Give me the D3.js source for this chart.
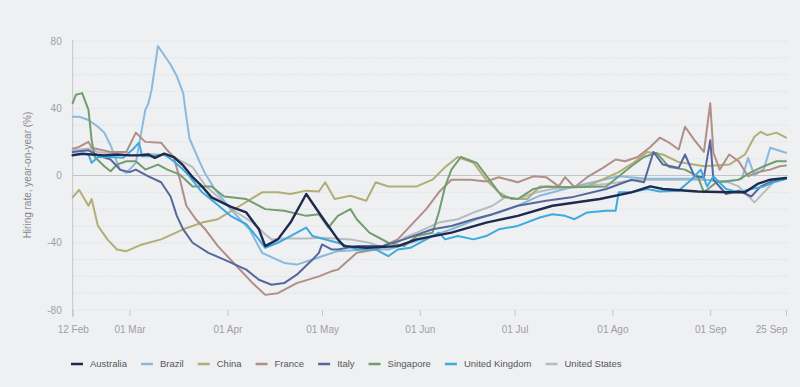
<!DOCTYPE html>
<html>
<head>
<meta charset="utf-8">
<script src="https://cdn.jsdelivr.net/npm/d3@7"></script>
<style>
  html, body { margin: 0; padding: 0; background: #eff0f2; }
  svg { display: block; font-family: "Liberation Sans", Arial, sans-serif; }
</style>
</head>
<body>
<script>
'use strict';

const countries = ["Australia", "Brazil", "China", "France", "Italy", "Singapore", "United Kingdom", "United States"];
const colors = ["#1f2a4d", "#8bb9dd", "#b3ad78", "#b08f87", "#56679b", "#739c71", "#3eaadd", "#b9bbc1"];

const tickDates = ["02-12", "03-01", "04-01", "05-01", "06-01", "07-01", "08-01", "09-01", "09-25"];
const tickLabels = ["12 Feb", "01 Mar", "01 Apr", "01 May", "01 Jun", "01 Jul", "01 Ago", "01 Sep", "25 Sep"];
const yTicks = [-80, -40, 0, 40, 80];

const australia = [
  ["02-12", 12], ["02-15", 13], ["02-18", 12.5], ["02-22", 12], ["02-26", 12.5], ["03-01", 12],
  ["03-04", 12], ["03-07", 12.5], ["03-09", 10.5], ["03-12", 13], ["03-15", 11], ["03-18", 6],
  ["03-21", -1], ["03-24", -6.5], ["03-27", -13], ["04-02", -18.5], ["04-07", -22], ["04-11", -32],
  ["04-13", -42], ["04-17", -38], ["04-21", -28], ["04-26", -11], ["04-30", -22], ["05-03", -30],
  ["05-06", -38], ["05-08", -42], ["05-15", -43], ["05-25", -42], ["05-31", -38], ["06-11", -34],
  ["06-22", -28], ["07-02", -24], ["07-13", -18], ["07-28", -14], ["08-07", -10], ["08-13", -6.5],
  ["08-17", -8], ["08-28", -9.5], ["09-07", -10], ["09-12", -10], ["09-16", -5], ["09-20", -2.5],
  ["09-25", -1.5]
];
const brazil = [
  ["02-12", 35], ["02-14", 35], ["02-17", 33], ["02-20", 29], ["02-22", 25.5], ["02-24", 18],
  ["02-26", 8], ["02-27", 3.5], ["02-29", 1.5], ["03-03", 7.5], ["03-06", 39], ["03-07", 43],
  ["03-08", 51], ["03-10", 77], ["03-14", 66], ["03-16", 59], ["03-18", 49], ["03-19", 35],
  ["03-20", 22], ["03-23", 9], ["03-25", 1], ["03-28", -8], ["04-02", -20], ["04-08", -32],
  ["04-12", -46], ["04-19", -52], ["04-23", -53], ["04-28", -50], ["05-01", -48], ["05-06", -45],
  ["05-15", -44], ["05-22", -44], ["05-29", -40], ["06-05", -36], ["06-11", -32], ["06-19", -26],
  ["06-26", -22], ["07-02", -18], ["07-09", -12], ["07-19", -7], ["08-03", -0.5], ["08-12", -2],
  ["08-19", -2], ["08-28", -2], ["09-06", -4], ["09-11", -2], ["09-13", 10.5], ["09-15", 0],
  ["09-18", 4], ["09-20", 16.5], ["09-25", 13.5]
];
const china = [
  ["02-12", -13], ["02-14", -8.5], ["02-17", -18], ["02-18", -14], ["02-20", -30], ["02-23", -38],
  ["02-26", -44], ["02-29", -45], ["03-05", -41], ["03-11", -38], ["03-18", -32], ["03-24", -28],
  ["03-29", -26], ["04-05", -18], ["04-12", -10], ["04-17", -10], ["04-21", -11], ["04-26", -9],
  ["04-30", -9.5], ["05-02", -4], ["05-05", -14], ["05-10", -12], ["05-15", -15], ["05-18", -4],
  ["05-22", -6.5], ["05-31", -6.5], ["06-05", -2.5], ["06-09", 5], ["06-13", 11], ["06-18", 7.5],
  ["06-22", -2.5], ["06-26", -10], ["06-30", -14], ["07-05", -14], ["07-09", -6.5], ["07-15", -7],
  ["07-24", -6.5], ["08-03", 2], ["08-08", 8], ["08-12", 14], ["08-17", 12.5], ["08-22", 8],
  ["08-30", 5.5], ["09-07", 6.5], ["09-12", 12.5], ["09-15", 23], ["09-17", 26], ["09-19", 24],
  ["09-22", 25.5], ["09-25", 22.5]
];
const france = [
  ["02-12", 16], ["02-14", 17], ["02-17", 20], ["02-18", 16.5], ["02-24", 14], ["02-29", 14],
  ["03-03", 25.5], ["03-06", 20], ["03-11", 19.5], ["03-13", 15], ["03-15", 11], ["03-17", -2.5],
  ["03-19", -18], ["03-22", -26], ["03-25", -32], ["03-29", -42], ["04-04", -54], ["04-09", -64],
  ["04-13", -71], ["04-17", -70], ["04-23", -64], ["04-30", -60], ["05-04", -57], ["05-06", -56],
  ["05-12", -46], ["05-18", -44], ["05-25", -38], ["05-29", -30], ["06-03", -20], ["06-07", -10],
  ["06-11", -2.5], ["06-17", -2.5], ["06-22", -3.5], ["06-26", -1], ["07-02", -4], ["07-07", -0.5],
  ["07-11", -1], ["07-15", -6.5], ["07-17", -1], ["07-20", -7], ["07-24", -1], ["07-29", 4.5],
  ["08-02", 9.5], ["08-05", 8.5], ["08-09", 11], ["08-13", 17], ["08-16", 22.5], ["08-19", 19.5],
  ["08-22", 15.5], ["08-24", 29], ["08-27", 21], ["08-30", 14], ["09-01", 43], ["09-02", 13.5],
  ["09-04", 3.5], ["09-07", 12.5], ["09-10", 8.5], ["09-13", -0.5], ["09-16", 2], ["09-20", 3.5],
  ["09-23", 5.5], ["09-25", 6]
];
const italy = [
  ["02-12", 14], ["02-17", 15], ["02-20", 12], ["02-24", 9.5], ["02-27", 3.5], ["03-01", 2],
  ["03-03", 3.5], ["03-07", -0.5], ["03-11", -4], ["03-14", -12.5], ["03-16", -24], ["03-18", -32],
  ["03-21", -40], ["03-26", -46], ["03-31", -50], ["04-07", -56], ["04-11", -62], ["04-15", -65],
  ["04-19", -64], ["04-23", -59], ["04-28", -50], ["04-30", -46], ["05-01", -41], ["05-04", -44],
  ["05-06", -44], ["05-12", -42], ["05-20", -42], ["05-27", -38], ["06-05", -32], ["06-11", -30],
  ["06-18", -26], ["06-24", -23], ["07-02", -18], ["07-11", -15], ["07-19", -13], ["07-30", -8],
  ["08-07", -2.5], ["08-11", -4], ["08-14", 14], ["08-17", 6.5], ["08-22", 4.5], ["08-24", 12.5],
  ["08-27", -0.5], ["08-30", -1], ["09-01", 21], ["09-02", -2.5], ["09-06", -11], ["09-10", -9],
  ["09-14", -12.5], ["09-17", -6.5], ["09-20", -4], ["09-23", -2.5], ["09-25", -2]
];
const singapore = [
  ["02-12", 43], ["02-13", 48], ["02-15", 49], ["02-17", 39], ["02-18", 21], ["02-19", 11],
  ["02-22", 5.5], ["02-24", 2.5], ["02-26", 6.5], ["02-29", 8.5], ["03-03", 8.5], ["03-06", 3.5],
  ["03-10", 6.5], ["03-13", 3.5], ["03-17", 0.5], ["03-21", -6.5], ["03-27", -6.5], ["03-31", -12.5],
  ["04-07", -14], ["04-13", -20], ["04-19", -21], ["04-26", -24], ["04-30", -23], ["05-03", -31],
  ["05-06", -24], ["05-10", -20], ["05-12", -26], ["05-16", -34], ["05-22", -40], ["05-27", -42],
  ["05-31", -36], ["06-05", -34], ["06-07", -22], ["06-09", -6.5], ["06-11", 3.5], ["06-14", 11],
  ["06-19", 7.5], ["06-23", -2.5], ["06-27", -12.5], ["07-02", -14], ["07-07", -8], ["07-11", -6.5],
  ["07-19", -7], ["07-30", -6.5], ["08-07", 5.5], ["08-11", 11], ["08-15", 13.5], ["08-19", 5],
  ["08-24", 3.5], ["08-28", -0.5], ["08-30", -10], ["09-03", -4], ["09-10", -2.5], ["09-14", 2],
  ["09-18", 5.5], ["09-22", 8.5], ["09-25", 8.5]
];
const unitedKingdom = [
  ["02-12", 12.5], ["02-17", 12.5], ["02-18", 7.5], ["02-20", 11], ["02-24", 11], ["02-28", 10.5],
  ["03-02", 15.5], ["03-04", 19.5], ["03-05", 11.5], ["03-08", 11.5], ["03-12", 12.5], ["03-15", 8.5],
  ["03-18", 3.5], ["03-20", -0.5], ["03-24", -10], ["03-28", -16], ["04-02", -24], ["04-07", -29],
  ["04-11", -38], ["04-13", -43], ["04-17", -40], ["04-21", -36], ["04-23", -34], ["04-26", -31],
  ["04-28", -36], ["04-30", -37], ["05-06", -40], ["05-12", -44], ["05-18", -44], ["05-22", -48],
  ["05-25", -44], ["05-29", -43], ["06-03", -38], ["06-07", -34], ["06-09", -38], ["06-13", -36],
  ["06-18", -38], ["06-22", -36], ["06-26", -32], ["07-02", -30], ["07-09", -25], ["07-13", -23],
  ["07-17", -24], ["07-20", -26], ["07-24", -22], ["07-30", -21], ["08-02", -21], ["08-03", -10],
  ["08-07", -10], ["08-12", -8], ["08-16", -9.5], ["08-22", -9], ["08-26", -2.5], ["08-29", 3.5],
  ["08-31", -6.5], ["09-02", -0.5], ["09-06", -8], ["09-10", -10], ["09-14", -8], ["09-18", -6.5],
  ["09-21", -4], ["09-25", -2]
];
const unitedStates = [
  ["02-12", 15], ["02-17", 16], ["02-20", 14], ["02-24", 13], ["03-01", 12], ["03-07", 13],
  ["03-12", 12], ["03-15", 11], ["03-18", 8], ["03-21", 5], ["03-25", -6], ["03-31", -16],
  ["04-04", -22], ["04-09", -28], ["04-13", -35], ["04-15", -38], ["04-19", -37.5], ["04-26", -37.5],
  ["05-01", -37], ["05-10", -38], ["05-16", -40], ["05-22", -44], ["05-27", -37], ["05-31", -34],
  ["06-07", -28], ["06-13", -26], ["06-18", -22], ["06-24", -18], ["06-28", -13], ["07-02", -14],
  ["07-08", -10], ["07-13", -8], ["07-19", -7], ["07-30", -5], ["08-09", -2.5], ["08-19", -2.5],
  ["08-30", -2.5], ["09-06", -3.5], ["09-10", -6.5], ["09-15", -16], ["09-18", -10], ["09-21", -4],
  ["09-25", -2]
];

const seriesValues = [australia, brazil, china, france, italy, singapore, unitedKingdom, unitedStates];

(function () {
  const width = 800, height = 387;
  const parseDay = d3.timeParse("%Y-%m-%d");
  const toDate = (s) => parseDay("2020-" + s);

  window.onload = function () {
    let svg = d3.select('body')
      .append('svg')
      .attr('width', width)
      .attr('height', height);

    let x = d3.scaleTime()
      .domain([toDate("02-12"), toDate("09-25")])
      .range([72.7, 786]);
    let y = d3.scaleLinear()
      .domain([-80, 80])
      .range([310, 41]);

    // dotted grid every 10, solid zero line
    let gridVals = d3.range(-80, 81, 10).filter((v) => v !== 0);
    svg.append('g')
      .selectAll('line')
      .data(gridVals)
      .enter()
      .append('line')
      .attr('x1', x.range()[0])
      .attr('x2', 788)
      .attr('y1', (d) => y(d))
      .attr('y2', (d) => y(d))
      .attr('stroke', '#d6d8db')
      .attr('stroke-width', 1)
      .attr('stroke-dasharray', '1,2');

    svg.append('line')
      .attr('x1', x.range()[0])
      .attr('x2', 788)
      .attr('y1', y(0))
      .attr('y2', y(0))
      .attr('stroke', '#c4c5c8')
      .attr('stroke-width', 1);

    // y axis
    let yAxis = d3.axisLeft(y)
      .tickValues(yTicks)
      .tickSize(0)
      .tickPadding(11)
      .tickFormat((d) => String(d));
    let gy = svg.append('g')
      .attr('transform', 'translate(' + x.range()[0] + ', 0)')
      .call(yAxis);
    gy.select('.domain').remove();
    gy.selectAll('text')
      .attr('fill', '#9d9fa3')
      .style('font-size', '10px');

    svg.append('line')
      .attr('x1', x.range()[0])
      .attr('x2', x.range()[0])
      .attr('y1', 40)
      .attr('y2', 317)
      .attr('stroke', '#c4c5c8')
      .attr('stroke-width', 1);

    // x axis
    let xAxis = d3.axisBottom(x)
      .tickValues(tickDates.map(toDate))
      .tickSize(6)
      .tickPadding(10)
      .tickFormat((d, i) => tickLabels[i]);
    let gx = svg.append('g')
      .attr('transform', 'translate(0, ' + y(-80) + ')')
      .call(xAxis);
    gx.select('.domain').remove();
    gx.selectAll('line').attr('stroke', '#c4c5c8');
    gx.selectAll('text')
      .attr('fill', '#9d9fa3')
      .style('font-size', '10px')
      .attr('text-anchor', (d, i) => i === tickLabels.length - 1 ? 'end' : 'middle')
      .attr('dx', (d, i) => i === tickLabels.length - 1 ? 1 : 0);

    svg.append('text')
      .attr('transform', 'translate(31, 175)rotate(-90)')
      .attr('text-anchor', 'middle')
      .attr('fill', '#86888c')
      .style('font-size', '10px')
      .text('Hiring rate, year-on-year (%)');

    // lines
    let line = d3.line()
      .x((d) => x(toDate(d[0])))
      .y((d) => y(d[1]));

    let order = [7, 1, 2, 3, 5, 4, 6, 0];
    svg.append('g')
      .selectAll('path')
      .data(order)
      .enter()
      .append('path')
      .attr('fill', 'none')
      .attr('stroke', (i) => colors[i])
      .attr('stroke-width', (i) => i === 0 ? 2.4 : 2)
      .attr('stroke-linejoin', 'round')
      .attr('stroke-linecap', 'round')
      .attr('d', (i) => line(seriesValues[i]));

    // legend
    let legend = svg.append('g').attr('transform', 'translate(71, 364)');
    let cursor = 0;
    countries.forEach((name, i) => {
      let item = legend.append('g').attr('transform', 'translate(' + cursor + ', 0)');
      item.append('line')
        .attr('x1', 0)
        .attr('x2', 12)
        .attr('y1', 0)
        .attr('y2', 0)
        .attr('stroke', colors[i])
        .attr('stroke-width', 2.5);
      let t = item.append('text')
        .attr('x', 19)
        .attr('y', 3.3)
        .attr('fill', '#55575b')
        .style('font-size', '9.5px')
        .text(name);
      cursor += 19 + t.node().getComputedTextLength() + 14;
    });
  };
})();
</script>
</body>
</html>
